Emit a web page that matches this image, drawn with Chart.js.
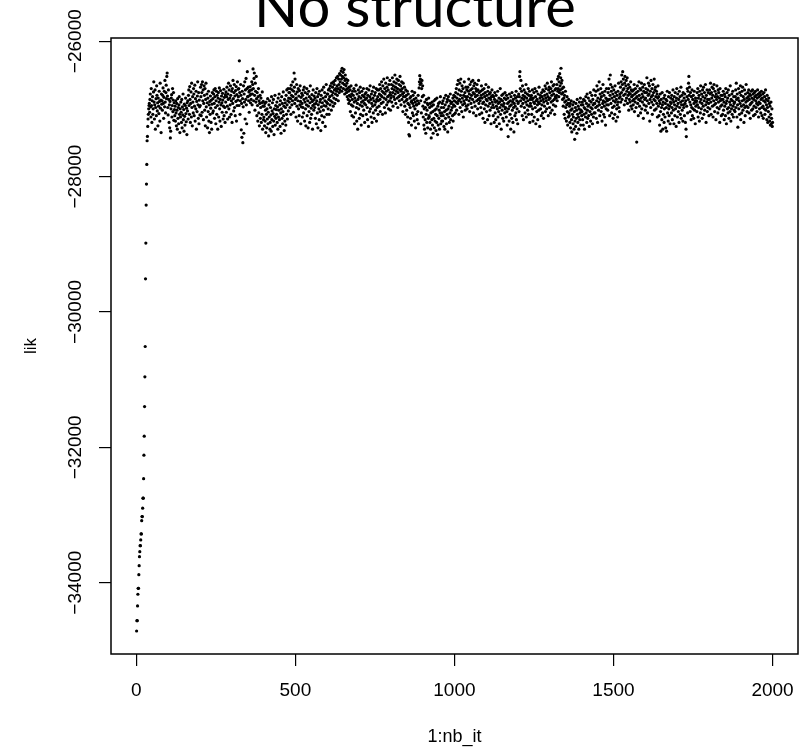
<!DOCTYPE html>
<html>
<head>
<meta charset="utf-8">
<title>No structure</title>
<script src="https://cdn.jsdelivr.net/npm/chart.js@4.4.1/dist/chart.umd.min.js"></script>
<style>
  html, body { margin: 0; padding: 0; background: #fff; }
  canvas { display: block; }
</style>
</head>
<body>
<canvas id="trace" width="801" height="752"></canvas>
<script>
// Trace of the log-likelihood over 2000 iterations

// iterations 1..40: the burn-in climb
const burnIn = [
    -34714, -34562, -34562, -34344, -34171, -34083, -34083, -33882, -33749, -33616,
    -33542, -33453, -33453, -33369, -33280, -33280, -33084, -33024, -33024, -32900,
    -32752, -32752, -32463, -32117, -31836, -31398, -30959, -30511, -29511, -28983,
    -28421, -28111, -27821, -27471, -27407, -27259, -27150, -27080, -27000, -26950
];

// iterations 41..2000, 40 per row, stored as offsets from LIK_BASE in steps of 10
const LIK_BASE = -27000;
const LIK_STEP = 10;
const plateauRows = [
    [8,-5,14,22,3,-12,30,5,-20,12, 18,-8,0,25,40,10,-15,6,28,-30, 2,15,-10,34,20,-3,9,-25,16,4, -7,26,11,-18,38,1,13,-35,22,7],
    [12,-2,20,31,8,-14,17,26,3,42, 10,-6,24,35,15,48,53,19,2,-9, 28,14,-20,6,-28,11,-43,-33,0,16, 21,-12,5,30,-4,13,24,-17,9,-1],
    [-10,4,-18,12,-6,-25,8,-2,-30,15, -14,2,-22,6,18,-8,-35,0,-12,10, -5,-20,14,-28,3,-9,22,-16,-1,-33, 7,-11,-24,5,16,-7,-19,1,-38,9],
    [-3,12,-15,20,28,5,-8,33,14,-20, 8,25,-12,38,2,-25,18,10,-6,30, 22,-10,4,35,-18,15,0,26,-30,11, -4,19,40,6,-14,24,-22,13,3,-9],
    [5,32,18,-10,36,24,-5,40,12,28, -16,8,34,20,-2,30,-25,14,38,3, -12,22,9,-28,16,-4,26,-18,6,-35, 11,-8,19,1,-20,13,-30,7,24,-6],
    [15,-3,22,28,8,-14,18,30,2,-22, 12,26,-8,20,5,-30,16,24,-12,10, 31,0,-18,14,27,6,-26,19,9,-5, 23,13,-15,4,29,-10,17,2,-20,21],
    [10,25,-5,18,32,4,-15,22,14,38, 0,28,-12,16,6,34,20,-8,12,26, -20,30,8,42,15,-3,24,36,2,19, -10,27,11,33,-18,21,5,40,13,29],
    [18,30,5,71,24,-8,12,36,20,-31, 8,-42,26,15,-50,3,34,-36,22,10, 40,-15,28,14,45,6,-22,30,55,18, 18,32,12,25,-5,27,20,33,9,22],
    [14,28,40,6,22,36,59,30,12,45, 53,20,-2,38,26,10,48,15,-10,24, 5,-18,18,30,-6,12,-25,8,20,-14, 2,16,-20,9,-8,25,-30,4,11,-16],
    [-12,4,-25,8,-18,-2,-35,10,-8,-28, 0,-15,15,-22,-5,-40,6,-12,12,-30, -20,2,-9,-33,18,-16,-3,9,-26,-7, 14,-18,-38,0,-11,20,-24,5,-14,-1],
    [-8,10,-20,3,-30,16,-12,-2,22,-16, 6,-26,12,-6,-36,0,18,-14,8,-22, -4,25,-10,4,-32,14,-18,9,2,-24, 20,-8,28,6,-15,12,30,-3,16,24],
    [10,24,2,30,15,-8,35,20,6,28, 12,40,18,-5,26,53,32,8,44,14, 22,-12,16,36,4,25,-18,12,30,0, 19,-10,27,6,34,11,-22,17,3,23],
    [8,-12,20,2,28,-6,14,32,-18,10, 24,0,-25,16,6,30,-10,22,12,-28, 4,26,-4,18,-20,9,34,-14,15,1, -8,21,11,-30,5,28,13,-2,19,7],
    [2,16,-14,24,8,-22,12,30,-6,18, -28,6,22,0,-16,26,10,-4,14,-32, 20,3,-10,28,9,-20,16,-2,32,5, -12,24,12,-26,18,4,36,10,-8,22],
    [8,22,0,28,14,-8,30,18,6,34, 12,26,-2,38,20,10,32,24,4,40, 16,36,28,8,42,22,30,14,46,26, 34,20,48,30,12,44,36,24,52,28],
    [40,50,32,56,44,26,60,48,38,54, 30,46,58,36,22,42,50,28,34,44, 24,38,18,30,42,14,26,8,32,20, 12,28,-4,18,34,6,22,-10,14,26],
    [4,20,-12,30,10,-22,16,26,-6,12, 35,2,-18,22,8,-30,14,28,0,18, -14,24,6,32,-8,16,-24,10,26,4, 20,-10,12,30,-2,18,8,-20,22,14],
    [6,24,-8,16,30,2,-16,20,12,-26, 28,10,-4,18,34,0,14,-12,22,8, -20,26,4,16,-6,32,12,-14,20,6, 24,-2,10,30,-18,14,2,28,18,-8],
    [12,28,4,22,36,14,-4,30,20,8, 40,18,26,-8,34,10,24,44,16,2, 30,22,-6,38,14,26,6,32,46,18, 10,28,0,36,20,12,42,24,-2,16],
    [20,36,10,30,46,24,4,34,18,40, 28,14,50,22,32,8,38,26,44,16, 30,2,24,42,18,36,12,28,48,20, 34,6,26,40,14,30,22,-4,38,18],
    [24,10,32,4,18,-8,28,12,20,-2, 14,26,-12,8,22,-20,-38,6,-40,16, 2,-14,18,10,-24,12,26,-6,8,20, -10,4,14,-18,24,0,10,-28,16,6],
    [-8,6,-16,12,-4,20,-22,8,31,40, 49,36,44,12,38,-6,30,42,18,34, 4,-12,20,-24,0,-30,10,-16,2,-36, -8,14,-20,-2,8,-28,6,-14,16,-10],
    [-12,2,-20,8,-30,-6,-43,4,-16,10, -24,-4,-36,6,-14,12,-28,-2,-18,14, -8,-32,0,-20,16,-10,-38,4,-24,8, -14,-2,-30,10,-6,18,-22,-10,2,-18],
    [-6,8,-18,12,-10,2,-26,16,-4,-30, 6,-14,20,-2,-22,10,-8,14,-34,0, 18,-12,4,-20,12,-6,22,-16,8,-2, -28,10,2,-10,16,-18,6,20,-8,12],
    [4,18,-6,24,10,30,-2,16,36,8, 22,42,12,-8,28,14,38,2,20,44, 10,26,-4,34,16,6,30,-12,20,12, 40,8,24,-2,18,32,4,14,28,0],
    [18,32,6,26,44,12,22,-4,36,16, 28,8,40,20,2,30,14,42,24,-6, 34,10,22,38,4,18,30,-10,26,12, 36,20,0,28,14,42,8,24,-8,16],
    [12,26,2,20,34,-6,16,28,8,-14, 22,10,30,0,18,-20,24,6,36,14, -4,20,12,-16,26,4,32,16,-10,22, 8,-2,24,14,-22,18,2,28,10,20],
    [6,-10,18,2,-20,14,24,-6,10,-16, 20,4,-26,12,0,26,-12,8,-4,16, -22,10,2,30,-8,14,-30,6,20,-2, 12,-14,22,4,-18,8,16,-6,24,0],
    [2,14,-12,20,-4,-24,8,16,-41,0, 10,-18,22,4,-8,12,-30,18,6,-14, 24,-2,10,-20,14,2,-34,8,20,-10, 4,16,-6,26,-16,12,0,18,-22,8],
    [10,22,-4,18,48,55,30,12,42,4, 26,16,-10,34,8,20,-16,14,28,2, 18,-6,24,10,36,-12,16,6,22,-2, 12,30,-8,20,4,26,-20,14,8,18],
    [4,20,-8,14,28,0,-18,16,10,24, -12,8,30,2,18,-22,12,26,-4,14, 6,-16,22,10,-2,32,8,-26,16,20, 0,12,-10,24,6,18,-6,28,14,-14],
    [10,26,4,20,34,-4,16,30,12,0, 22,38,8,18,-10,28,14,32,2,24, 16,-6,30,10,40,20,-2,26,12,34, 6,22,36,14,-8,28,18,4,30,16],
    [20,36,12,44,26,30,48,18,40,24, 52,34,28,46,60,38,22,42,30,14, 24,4,32,16,-8,20,10,-14,26,2, 12,-18,6,18,-4,-24,8,-12,14,-6],
    [-10,4,-20,8,-28,-2,12,-16,-34,0, -8,6,-22,-12,10,-30,-4,-45,-18,2, -26,8,-14,-2,-36,14,-8,-20,4,-12, -30,0,10,-16,-6,16,-24,-2,6,-10],
    [-4,10,-16,6,-24,14,-8,2,-30,12, 0,-12,18,-6,8,-20,22,-2,-14,4, 16,-10,6,-26,12,-4,24,-18,2,10, -8,20,0,-22,14,6,-12,28,-6,8],
    [8,-6,20,2,26,-14,12,34,4,-20, 16,28,-2,10,40,6,-10,22,14,30, -4,18,2,-18,24,8,36,12,-8,20, 4,-12,26,10,-24,16,0,30,6,14],
    [12,-2,24,6,30,44,14,-10,20,50, 36,8,26,-6,16,32,2,22,-14,12, 28,4,18,-8,34,10,24,-18,14,0, 20,6,-12,26,10,38,2,16,-4,22],
    [18,32,10,40,24,50,14,36,55,28, 44,20,30,6,38,48,22,12,34,42, 16,26,46,8,30,20,36,-2,24,14, 32,10,22,40,4,28,18,0,26,12],
    [20,6,28,14,36,-4,22,10,30,16, 2,24,-49,18,34,8,26,-10,14,40, 20,4,30,12,-6,28,16,38,0,22, 10,32,18,-14,26,6,36,14,24,-2],
    [16,30,4,24,46,12,-6,28,20,38, 8,22,34,-18,14,26,2,42,18,10, 30,-8,20,36,6,24,14,44,-2,28, 12,32,18,0,26,8,22,-12,16,34],
    [4,18,-10,12,-24,8,22,-4,-33,14, 2,-16,24,6,-30,10,-8,16,-20,0, 20,-12,8,-28,14,2,-33,12,26,-6, 6,-18,18,0,-10,24,4,-22,10,16],
    [8,-6,20,2,-16,14,28,-2,10,-22, 18,6,-10,24,0,12,-26,16,30,4, -12,22,8,-4,14,-20,26,2,18,-8, 10,32,-14,6,20,-2,12,-18,24,6],
    [2,16,-10,22,8,-20,12,-30,-41,4, 18,30,-6,26,14,38,48,20,32,10, -4,24,6,-16,18,2,28,-10,14,0, 20,-14,8,26,-2,12,-22,16,4,10],
    [12,-4,24,6,30,-12,16,2,20,-18, 26,10,-6,34,14,0,22,8,-14,28, 18,4,32,-8,12,24,-2,16,36,6, -20,20,10,28,-4,14,2,24,8,-10],
    [14,28,0,22,38,10,-8,24,16,32, 4,20,-12,30,12,36,6,-4,26,18, 8,-16,22,14,34,2,18,-6,28,10, 24,0,16,-20,30,12,4,20,-10,14],
    [6,20,-8,14,26,-2,10,-16,22,4, 18,-10,30,8,-22,12,24,0,16,-6, 28,2,-14,20,10,-4,34,6,-18,14, 0,22,-8,12,26,4,-12,18,8,-2],
    [10,-4,18,28,2,38,14,-12,22,6, -27,16,30,0,12,-8,24,8,34,-16, 20,4,-6,26,12,32,-2,18,6,-20, 14,28,2,-10,22,10,36,4,16,-4],
    [12,24,2,18,28,-6,14,22,6,-14, 20,8,26,-2,16,10,28,0,22,-10, 14,4,24,18,-8,26,12,2,20,8, -4,16,28,6,22,-12,10,18,0,24],
    [8,20,-6,14,26,2,-10,16,22,4, -14,12,24,0,18,-8,10,28,-2,14, 6,-16,20,2,-20,12,-4,16,-12,8, -18,4,-24,-8,10,-22,-14,0,-26,-20]
];

// axis ticks and labels
const xTicks = [0, 500, 1000, 1500, 2000];
const xTickLabels = ['0', '500', '1000', '1500', '2000'];
const yTicks = [-34000, -32000, -30000, -28000, -26000];
const yTickLabels = ['\u221234000', '\u221232000', '\u221230000', '\u221228000', '\u221226000'];

// R pads the data range by 4% on each side
const X_MIN = -79.5, X_MAX = 2080;
const Y_MIN = -35054, Y_MAX = -25953;

const lik = burnIn.concat(plateauRows.flat().map(d => LIK_BASE + d * LIK_STEP));
const points = lik.map((v, i) => ({ x: i + 1, y: v }));

const tickFont = { family: '"Liberation Sans", Arial, sans-serif', size: 19 };

// where the rotated y labels should be centred (horizontally)
const Y_LABEL_CENTER = 76;
const measure = document.createElement('canvas').getContext('2d');
measure.font = '19px "Liberation Sans"';
const widestY = Math.max(...yTickLabels.map(t => measure.measureText(t).width));

const boxPlugin = {
    id: 'plotBox',
    afterDraw(chart) {
        const { ctx, chartArea: a } = chart;
        ctx.save();
        ctx.strokeStyle = '#000';
        ctx.lineWidth = 1.5;
        ctx.strokeRect(a.left, a.top, a.right - a.left, a.bottom - a.top);
        ctx.restore();
    }
};

// slide title, cut off by the top edge like in the original
const titlePlugin = {
    id: 'slideTitle',
    afterDraw(chart) {
        const ctx = chart.ctx;
        ctx.save();
        ctx.fillStyle = '#000';
        ctx.font = '58px Lato, "Open Sans", sans-serif';
        ctx.textAlign = 'center';
        ctx.textBaseline = 'alphabetic';
        ctx.fillText('No structure', 415, 27);
        ctx.restore();
    }
};

new Chart(document.getElementById('trace'), {
    type: 'scatter',
    data: {
        datasets: [{
            label: 'lik',
            data: points,
            pointRadius: 1.6,
            pointHoverRadius: 1.6,
            pointBackgroundColor: '#000',
            pointBorderWidth: 0
        }]
    },
    options: {
        responsive: false,
        animation: false,
        devicePixelRatio: 1,
        layout: { padding: { top: 38, right: 3, bottom: 0, left: 0 } },
        plugins: {
            legend: { display: false },
            tooltip: { enabled: false }
        },
        scales: {
            x: {
                type: 'linear',
                min: X_MIN,
                max: X_MAX,
                border: { display: false },
                grid: { drawOnChartArea: false, drawTicks: true, tickLength: 12, tickColor: '#000', lineWidth: 1.2 },
                afterBuildTicks: s => { s.ticks = xTicks.map(v => ({ value: v })); },
                afterFit: s => { s.height = 98; s.paddingLeft = 0; s.paddingRight = 0; },
                ticks: {
                    autoSkip: false,
                    maxRotation: 0,
                    padding: 13,
                    color: '#000',
                    font: tickFont,
                    callback: (v) => xTickLabels[xTicks.indexOf(v)]
                },
                title: {
                    display: true,
                    text: '1:nb_it',
                    color: '#000',
                    font: { family: '"Liberation Sans", Arial, sans-serif', size: 18 },
                    padding: { top: 0, bottom: 4 }
                }
            },
            y: {
                type: 'linear',
                min: Y_MIN,
                max: Y_MAX,
                border: { display: false },
                grid: { drawOnChartArea: false, drawTicks: true, tickLength: 12, tickColor: '#000', lineWidth: 1.2 },
                afterBuildTicks: s => { s.ticks = yTicks.map(v => ({ value: v })); },
                afterFit: s => { s.width = 111; s.paddingTop = 0; s.paddingBottom = 0; },
                ticks: {
                    autoSkip: false,
                    minRotation: 90,
                    maxRotation: 90,
                    crossAlign: 'center',
                    padding: 111 - 12 - Y_LABEL_CENTER - widestY / 2,
                    color: '#000',
                    font: tickFont,
                    callback: (v) => yTickLabels[yTicks.indexOf(v)]
                },
                title: {
                    display: true,
                    text: 'lik',
                    color: '#000',
                    font: { family: '"Liberation Sans", Arial, sans-serif', size: 17 },
                    padding: { top: 21, bottom: 0 }
                }
            }
        }
    },
    plugins: [boxPlugin, titlePlugin]
});
</script>
</body>
</html>
